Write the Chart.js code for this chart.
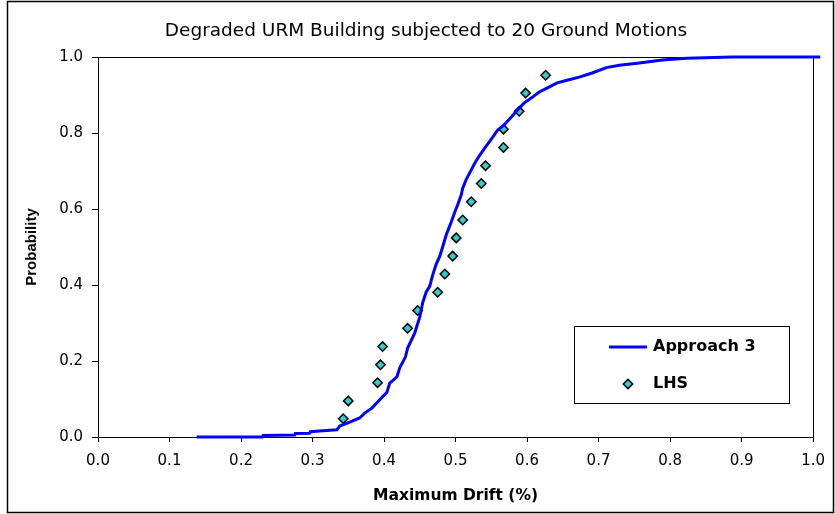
<!DOCTYPE html>
<html>
<head>
<meta charset="utf-8">
<script src="https://cdn.jsdelivr.net/npm/chart.js@4/dist/chart.umd.min.js"></script>
<style>
  body { margin: 0; background: #fff; }
  canvas { display: block; }
</style>
</head>
<body>
<canvas id="chartDrift" width="835" height="514"></canvas>
<script>
const chartTitle = "Degraded URM Building subjected to 20 Ground Motions";

// Approach 3: cumulative probability of maximum drift
const approachDrift = [
  0.138, 0.230, 0.231, 0.275, 0.276, 0.296, 0.297, 0.310, 0.334, 0.338,
  0.352, 0.366, 0.373, 0.383, 0.391, 0.404, 0.408, 0.418, 0.422, 0.430,
  0.433, 0.443, 0.450, 0.454, 0.459, 0.464, 0.468, 0.473, 0.478, 0.482,
  0.487, 0.494, 0.499, 0.503, 0.508, 0.510, 0.515, 0.522, 0.527, 0.534,
  0.541, 0.547, 0.552, 0.559, 0.568, 0.578, 0.587, 0.596, 0.608, 0.617,
  0.628, 0.642, 0.656, 0.673, 0.691, 0.711, 0.729, 0.757, 0.789, 0.823,
  0.887, 1.010,
];
const approachProb = [
  0.000, 0.000, 0.004, 0.005, 0.009, 0.010, 0.014, 0.016, 0.019, 0.029,
  0.039, 0.050, 0.063, 0.076, 0.092, 0.118, 0.142, 0.158, 0.182, 0.211,
  0.234, 0.274, 0.316, 0.353, 0.382, 0.397, 0.426, 0.455, 0.476, 0.500,
  0.532, 0.566, 0.592, 0.611, 0.637, 0.655, 0.678, 0.703, 0.721, 0.742,
  0.761, 0.776, 0.789, 0.808, 0.821, 0.842, 0.861, 0.879, 0.895, 0.908,
  0.918, 0.932, 0.939, 0.947, 0.958, 0.972, 0.978, 0.984, 0.992, 0.997,
  1.000, 1.000,
];

// LHS samples (20 ground motions)
const lhsDrift = [
  0.343, 0.350, 0.391, 0.395, 0.398, 0.433, 0.447, 0.475, 0.485, 0.496,
  0.501, 0.510, 0.522, 0.536, 0.542, 0.567, 0.567, 0.589, 0.598, 0.626,
];
const lhsProb = [
  0.048, 0.095, 0.143, 0.190, 0.238, 0.286, 0.333, 0.381, 0.429, 0.476,
  0.524, 0.571, 0.619, 0.667, 0.714, 0.762, 0.810, 0.857, 0.905, 0.952,
];

const toPoints = (xs, ys) => xs.map((x, i) => ({ x: x, y: ys[i] }));

const frame = {
  id: "frame",
  beforeDraw(chart) {
    const ctx = chart.ctx;
    ctx.save();
    ctx.fillStyle = "#fff";
    ctx.fillRect(0, 0, chart.width, chart.height);
    ctx.strokeStyle = "#000";
    ctx.lineWidth = 1.5;
    ctx.strokeRect(7.5, 1.5, 826, 511);
    ctx.restore();
  },
  beforeDatasetsDraw(chart) {
    const { ctx, chartArea } = chart;
    const l = Math.round(chartArea.left) + 0.5;
    const t = Math.round(chartArea.top) + 0.5;
    const r = Math.round(chartArea.right) + 0.5;
    const b = Math.round(chartArea.bottom) + 0.5;
    ctx.save();
    ctx.strokeStyle = "#000";
    ctx.lineWidth = 1;
    ctx.strokeRect(l, t, r - l, b - t);
    ctx.restore();
  },
  afterDraw(chart) {
    const ctx = chart.ctx;
    const sets = chart.data.datasets;
    ctx.save();
    ctx.fillStyle = "#000";
    ctx.textAlign = "center";
    ctx.textBaseline = "middle";
    ctx.font = "18.5px 'DejaVu Sans'";
    ctx.fillText(chartTitle, 426, 31);

    // legend box
    ctx.fillStyle = "#fff";
    ctx.fillRect(574.5, 326.5, 215, 77);
    ctx.strokeStyle = "#000";
    ctx.lineWidth = 1;
    ctx.strokeRect(574.5, 326.5, 215, 77);

    ctx.strokeStyle = sets[0].borderColor;
    ctx.lineWidth = 3;
    ctx.beginPath();
    ctx.moveTo(609, 347);
    ctx.lineTo(647, 347);
    ctx.stroke();

    ctx.fillStyle = sets[1].backgroundColor;
    ctx.strokeStyle = sets[1].borderColor;
    ctx.lineWidth = sets[1].borderWidth;
    Chart.helpers.drawPoint(ctx, {
      pointStyle: "rectRot",
      radius: sets[1].pointRadius,
      rotation: 0,
      borderWidth: sets[1].borderWidth,
    }, 628, 384);

    ctx.fillStyle = "#000";
    ctx.textAlign = "left";
    ctx.font = "bold 16px 'DejaVu Sans'";
    ctx.fillText(sets[0].label, 653, 347);
    ctx.fillText(sets[1].label, 653, 384);
    ctx.restore();
  },
};

new Chart(document.getElementById("chartDrift"), {
  type: "scatter",
  data: {
    datasets: [
      {
        label: "Approach 3",
        data: toPoints(approachDrift, approachProb),
        showLine: true,
        borderColor: "#0000ff",
        borderWidth: 3,
        pointRadius: 0,
        tension: 0,
        clip: false,
      },
      {
        label: "LHS",
        data: toPoints(lhsDrift, lhsProb),
        pointStyle: "rectRot",
        pointRadius: 4.7,
        backgroundColor: "#33cccc",
        borderColor: "#000",
        borderWidth: 1.5,
      },
    ],
  },
  options: {
    responsive: false,
    animation: false,
    layout: {
      padding: { top: 57, right: 21, bottom: 0, left: 0 },
    },
    plugins: {
      legend: { display: false },
      tooltip: { enabled: false },
    },
    scales: {
      x: {
        type: "linear",
        min: 0,
        max: 1,
        afterFit: (scale) => { scale.height = 77; },
        ticks: {
          stepSize: 0.1,
          color: "#000",
          padding: 10,
          font: { family: "'DejaVu Sans'", size: 15 },
          callback: (v) => v.toFixed(1),
        },
        grid: { drawOnChartArea: false, tickLength: 5, color: "#000" },
        border: { color: "#000", width: 1 },
        title: {
          display: true,
          text: "Maximum Drift (%)",
          color: "#000",
          font: { family: "'DejaVu Sans'", size: 15.5, weight: "bold" },
          padding: { top: 0, bottom: 8.7 },
        },
      },
      y: {
        min: 0,
        max: 1,
        afterFit: (scale) => { scale.width = 98; },
        ticks: {
          stepSize: 0.2,
          color: "#000",
          padding: 9,
          font: { family: "'DejaVu Sans'", size: 15 },
          callback: (v) => v.toFixed(1),
        },
        grid: { drawOnChartArea: false, tickLength: 6, color: "#000" },
        border: { color: "#000", width: 1 },
        title: {
          display: true,
          text: "Probability",
          color: "#000",
          font: { family: "'Liberation Sans'", size: 15, weight: "bold" },
          padding: { top: 23, bottom: 0 },
        },
      },
    },
  },
  plugins: [frame],
});
</script>
</body>
</html>
